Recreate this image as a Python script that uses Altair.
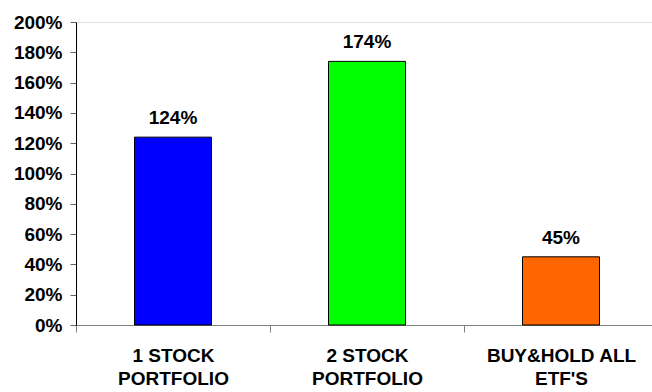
import altair as alt
import pandas as pd

categories = ["1 STOCK\nPORTFOLIO", "2 STOCK\nPORTFOLIO", "BUY&HOLD ALL\nETF'S"]
values = [1.24, 1.74, 0.45]
labels = ["124%", "174%", "45%"]
colors = ["#0000FF", "#00FF00", "#FF6600"]
y_ticks = [0, 0.2, 0.4, 0.6, 0.8, 1.0, 1.2, 1.4, 1.6, 1.8, 2.0]

df = pd.DataFrame({"cat": categories, "val": values, "lab": labels})

FONT = "Liberation Sans"
FS = 19

x = alt.X("cat:N", sort=categories, title=None,
          scale=alt.Scale(range=[0, 582], paddingInner=0, paddingOuter=0),
          axis=alt.Axis(labelAngle=0, labelExpr="split(datum.label, '\\n')",
                        labelFont=FONT, labelFontWeight="bold", labelFontSize=FS,
                        labelColor="black", labelLineHeight=23, labelPadding=14,
                        labelBaseline="top",
                        tickBand="extent", tickSize=7, tickColor="#808080",
                        domainColor="#808080", grid=False, labelLimit=300))

y = alt.Y("val:Q", title=None,
          scale=alt.Scale(domain=[0, 2], nice=False),
          axis=alt.Axis(values=y_ticks, format=".0%",
                        labelFont=FONT, labelFontWeight="bold", labelFontSize=FS,
                        labelColor="black", labelPadding=8, labelOverlap=False,
                        tickSize=6, tickColor="#606060", domainColor="black",
                        grid=False))

base = alt.Chart(df).encode(x=x, y=y)

bars = base.mark_bar(size=77, stroke="black", strokeWidth=1).encode(
    color=alt.Color("cat:N", sort=categories,
                    scale=alt.Scale(domain=categories, range=colors), legend=None),
)

text = base.mark_text(font=FONT, fontWeight="bold", fontSize=FS,
                      baseline="alphabetic", dy=-13, color="black").encode(
    text="lab:N")

chart = (bars + text).properties(
    width=576, height=303,
    autosize=alt.AutoSizeParams(type="none"),
    padding={"left": 76, "top": 22, "right": 0, "bottom": 67},
).configure_view(stroke=None).configure(background="white")

chart.save("out.html", embed_options={"renderer": "svg", "actions": False})
